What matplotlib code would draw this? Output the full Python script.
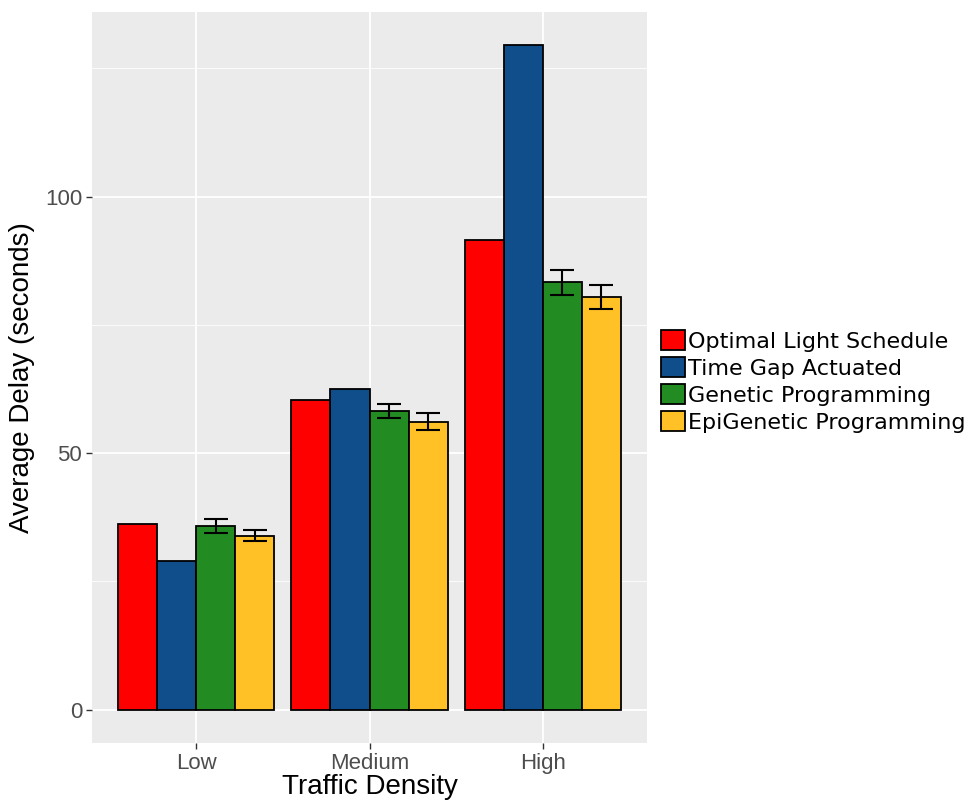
import numpy as np
import matplotlib.pyplot as plt
from matplotlib.patches import Patch

# values
densities = ['Low', 'Medium', 'High']
methods = ['Optimal Light Schedule', 'Time Gap Actuated',
           'Genetic Programming', 'EpiGenetic Programming']
colors = ['#FF0000', '#104E8B', '#228B22', '#FFC125']

delay_ols = [36.2, 60.3, 91.6]
delay_tga = [28.9, 62.6, 129.5]
delay_gp = [35.8, 58.2, 83.3]
delay_egp = [33.9, 56.1, 80.5]
err_gp = [1.45, 1.4, 2.45]
err_egp = [1.1, 1.65, 2.35]

series = [delay_ols, delay_tga, delay_gp, delay_egp]
errors = [None, None, err_gp, err_egp]

fig = plt.figure(figsize=(9.72, 8.01), dpi=100)
ax = fig.add_axes([92/972, 58/801, 555/972, 731/801])
ax.set_facecolor('#EBEBEB')

x = np.arange(1, len(densities) + 1)
w = 0.9 / len(methods)
for i, (vals, col, err) in enumerate(zip(series, colors, errors)):
    pos = x - 0.45 + w * (i + 0.5)
    ax.bar(pos, vals, width=w, color=col, edgecolor='black', linewidth=1.3, zorder=3)
    if err is not None:
        ax.errorbar(pos, vals, yerr=err, fmt='none', ecolor='black',
                    elinewidth=1.5, capsize=8.5, capthick=1.5, zorder=4)

ax.set_xlim(0.4, 3.6)
ax.set_ylim(-6.5, 136)
ax.set_xticks(x)
ax.set_xticklabels(densities)
ax.set_yticks([0, 50, 100])
ax.set_yticks([25, 75, 125], minor=True)
ax.grid(True, which='major', color='white', linewidth=1.3, zorder=0)
ax.grid(True, which='minor', axis='y', color='white', linewidth=0.6, zorder=0)
ax.set_axisbelow(True)
for s in ax.spines.values():
    s.set_visible(False)
ax.tick_params(which='major', length=4, width=1, color='#333333',
               labelcolor='#4D4D4D', labelsize=16, pad=3)
ax.tick_params(which='minor', length=0)
for lab in ax.get_xticklabels() + ax.get_yticklabels():
    lab.set_family('Liberation Sans')

ax.set_xlabel('Traffic Density', fontsize=20, family='Liberation Sans', labelpad=0)
ax.set_ylabel('Average Delay (seconds)', fontsize=20, family='Liberation Sans', labelpad=7)

handles = [Patch(facecolor=c, edgecolor='black', linewidth=1.3) for c in colors]
ax.legend(handles, methods, loc='center left', bbox_to_anchor=(1.01, 0.495),
          frameon=False, handlelength=1.05, handleheight=1.05,
          handletextpad=0.15, labelspacing=0.23, borderaxespad=0,
          prop={'family': 'DejaVu Sans', 'size': 16})

plt.savefig('out.png', dpi=100)
